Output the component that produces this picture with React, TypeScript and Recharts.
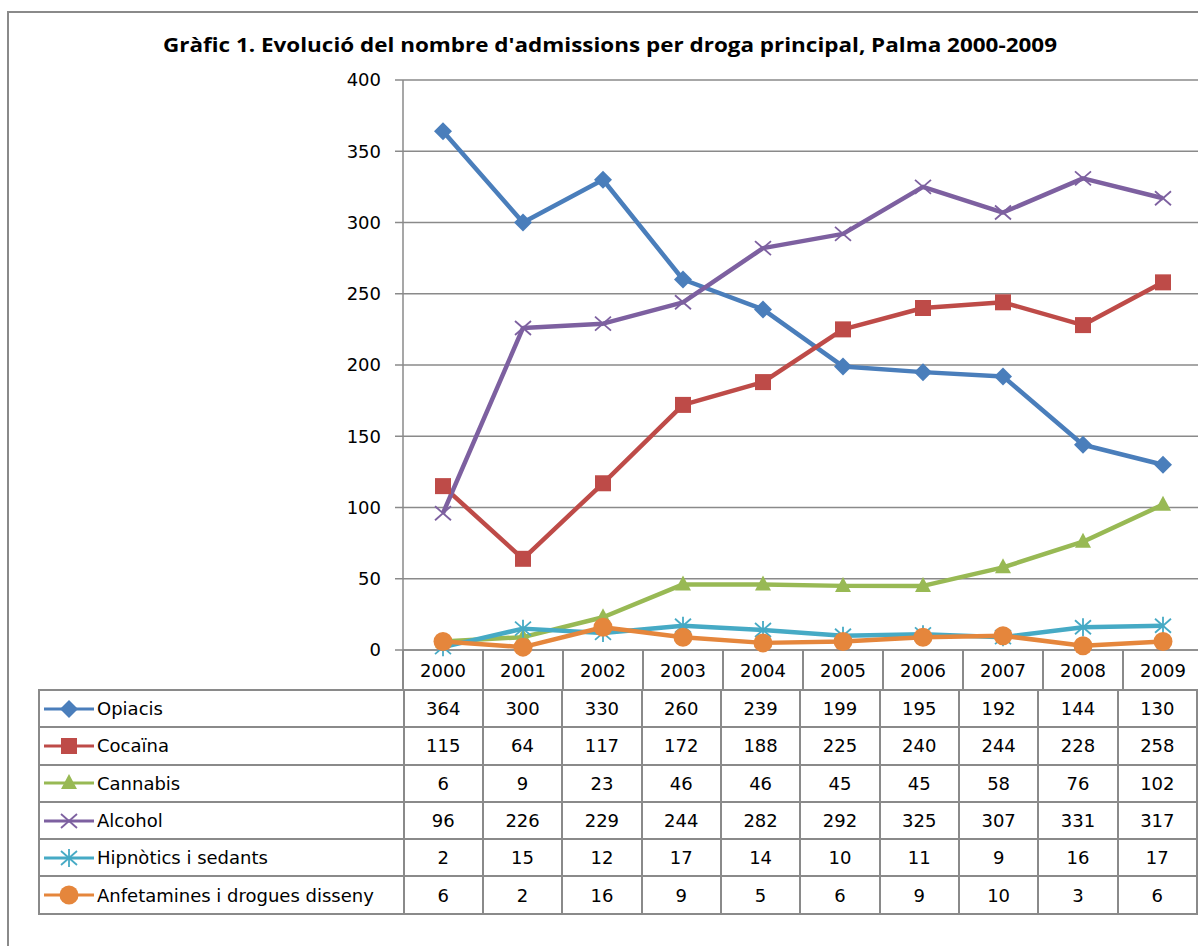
import { LineChart, Line, XAxis, YAxis, CartesianGrid } from "recharts";

const years = ["2000", "2001", "2002", "2003", "2004", "2005", "2006", "2007", "2008", "2009"];
const opiacis = [364, 300, 330, 260, 239, 199, 195, 192, 144, 130];
const cocaina = [115, 64, 117, 172, 188, 225, 240, 244, 228, 258];
const cannabis = [6, 9, 23, 46, 46, 45, 45, 58, 76, 102];
const alcohol = [96, 226, 229, 244, 282, 292, 325, 307, 331, 317];
const hipnotics = [2, 15, 12, 17, 14, 10, 11, 9, 16, 17];
const anfetamines = [6, 2, 16, 9, 5, 6, 9, 10, 3, 6];
const yTicks = [0, 50, 100, 150, 200, 250, 300, 350, 400];

type Shape = "diamond" | "square" | "triangle" | "x" | "star" | "circle";

const series: { key: string; name: string; color: string; shape: Shape; values: number[] }[] = [
  { key: "opiacis", name: "Opiacis", color: "#4A7EBB", shape: "diamond", values: opiacis },
  { key: "cocaina", name: "Cocaïna", color: "#BE4B48", shape: "square", values: cocaina },
  { key: "cannabis", name: "Cannabis", color: "#98B954", shape: "triangle", values: cannabis },
  { key: "alcohol", name: "Alcohol", color: "#7D60A0", shape: "x", values: alcohol },
  { key: "hipnotics", name: "Hipnòtics i sedants", color: "#46AAC5", shape: "star", values: hipnotics },
  { key: "anfetamines", name: "Anfetamines i drogues disseny", color: "#E5863C", shape: "circle", values: anfetamines },
];

const data = years.map((year, i) => {
  const row: Record<string, any> = { year };
  series.forEach(s => { row[s.key] = s.values[i]; });
  return row;
});

const GRID = "#8a8a8a";
const FONT = "'DejaVu Sans', Verdana, sans-serif";

function Marker({ shape, cx, cy, color }: { shape: Shape; cx: number; cy: number; color: string }) {
  switch (shape) {
    case "diamond":
      return <path d={`M${cx},${cy - 9} L${cx + 9},${cy} L${cx},${cy + 9} L${cx - 9},${cy} Z`} fill={color} />;
    case "square":
      return <rect x={cx - 8} y={cy - 8} width={16} height={16} fill={color} />;
    case "triangle":
      return <path d={`M${cx},${cy - 9} L${cx + 8},${cy + 6} L${cx - 8},${cy + 6} Z`} fill={color} />;
    case "x":
      return (
        <g stroke={color} strokeWidth={1.8}>
          <line x1={cx - 8} y1={cy - 7} x2={cx + 8} y2={cy + 7} />
          <line x1={cx - 8} y1={cy + 7} x2={cx + 8} y2={cy - 7} />
        </g>
      );
    case "star":
      return (
        <g stroke={color} strokeWidth={1.8}>
          <line x1={cx - 8} y1={cy - 7} x2={cx + 8} y2={cy + 7} />
          <line x1={cx - 8} y1={cy + 7} x2={cx + 8} y2={cy - 7} />
          <line x1={cx} y1={cy - 9} x2={cx} y2={cy + 9} />
        </g>
      );
    default:
      return <circle cx={cx} cy={cy} r={9.5} fill={color} />;
  }
}

function LegendKey({ shape, color }: { shape: Shape; color: string }) {
  return (
    <svg width={54} height={20} style={{ display: "block" }}>
      <line x1={2} y1={10} x2={52} y2={10} stroke={color} strokeWidth={3} />
      <Marker shape={shape} cx={27} cy={10} color={color} />
    </svg>
  );
}

const colW = 80;
const plotLeft = 403;
const rowH = 37.3;

export default function App() {
  return (
    <div style={{ position: "fixed", left: 0, top: 0, width: 1198, height: 946, overflow: "hidden", background: "#fff" }}>
      <div style={{ position: "absolute", left: 7, top: 11, width: 1300, height: 1000, border: `2px solid ${GRID}` }} />

      <svg style={{ position: "absolute", left: 0, top: 0 }} width={1198} height={80}>
        <text
          x={163}
          y={52}
          textLength={894}
          lengthAdjust="spacingAndGlyphs"
          fontFamily="'Open Sans', sans-serif"
          fontWeight={700}
          fontSize={20}
          fill="#000"
        >
          Gràfic 1. Evolució del nombre d'admissions per droga principal, Palma 2000-2009
        </text>
      </svg>

      {/* header row separators under the x axis */}
      {years.map((y, i) => (
        <div key={y} style={{ position: "absolute", left: plotLeft + i * colW - 1, top: 650, width: colW, height: 40, borderLeft: `2px solid ${GRID}`, boxSizing: "border-box" }} />
      ))}

      <div style={{ position: "absolute", left: 0, top: 0 }}>
        <LineChart width={1300} height={946} data={data} margin={{ top: 80, right: 97, left: 343, bottom: 256 }}>
          <CartesianGrid vertical={false} stroke={GRID} strokeWidth={1.5} />
          <XAxis
            dataKey="year"
            padding={{ left: 40, right: 40 }}
            height={40}
            tickLine={false}
            tickSize={0}
            tickMargin={14}
            axisLine={{ stroke: GRID, strokeWidth: 1.5 }}
            tick={{ fill: "#000", fontSize: 18, fontFamily: FONT }}
            interval={0}
          />
          <YAxis
            width={60}
            domain={[0, 400]}
            ticks={yTicks}
            tickSize={8}
            tickMargin={14}
            tickLine={{ stroke: GRID, strokeWidth: 1.5 }}
            axisLine={{ stroke: GRID, strokeWidth: 1.5 }}
            tick={{ fill: "#000", fontSize: 18, fontFamily: FONT }}
          />
          {series.map(s => (
            <Line
              key={s.key}
              dataKey={s.key}
              name={s.name}
              stroke={s.color}
              strokeWidth={4.5}
              strokeLinejoin="round"
              isAnimationActive={false}
              dot={(p: any) => <Marker key={`${s.key}-${p.index}`} shape={s.shape} cx={p.cx} cy={p.cy} color={s.color} />}
              activeDot={false}
            />
          ))}
        </LineChart>
      </div>

      <table
        style={{
          position: "absolute",
          left: 38,
          top: 689,
          borderCollapse: "collapse",
          fontFamily: FONT,
          fontSize: 18,
          color: "#000",
          tableLayout: "fixed",
        }}
      >
        <colgroup>
          <col style={{ width: plotLeft - 38 }} />
          {years.map(y => <col key={y} style={{ width: colW }} />)}
        </colgroup>
        <tbody>
          {series.map(s => (
            <tr key={s.key} style={{ height: rowH }}>
              <td style={{ border: `2px solid ${GRID}`, padding: "0 0 0 2px", whiteSpace: "nowrap" }}>
                <div style={{ display: "flex", alignItems: "center", gap: 1 }}>
                  <LegendKey shape={s.shape} color={s.color} />
                  <span>{s.name}</span>
                </div>
              </td>
              {s.values.map((v, i) => (
                <td key={i} style={{ border: `2px solid ${GRID}`, textAlign: "center", padding: 0 }}>{v}</td>
              ))}
            </tr>
          ))}
        </tbody>
      </table>
    </div>
  );
}
